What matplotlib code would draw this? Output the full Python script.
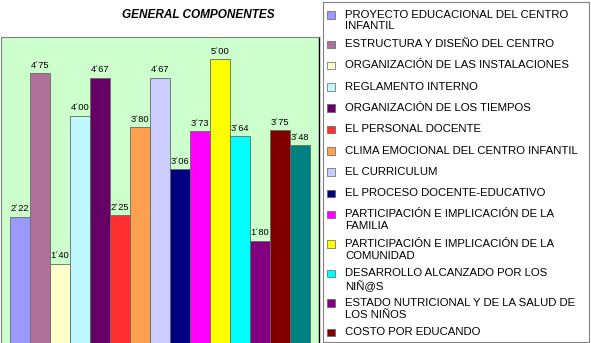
import matplotlib
matplotlib.use("Agg")
import matplotlib.pyplot as plt
from matplotlib.patches import Rectangle

plt.rcParams['font.family'] = ['Liberation Sans', 'DejaVu Sans']

# ------------------------------------------------------------------
# data
# ------------------------------------------------------------------
categories = [
    "PROYECTO EDUCACIONAL DEL CENTRO\nINFANTIL",
    "ESTRUCTURA Y DISEÑO DEL CENTRO",
    "ORGANIZACIÓN DE LAS INSTALACIONES",
    "REGLAMENTO INTERNO",
    "ORGANIZACIÓN DE LOS TIEMPOS",
    "EL PERSONAL DOCENTE",
    "CLIMA EMOCIONAL DEL CENTRO INFANTIL",
    "EL CURRICULUM",
    "EL PROCESO DOCENTE-EDUCATIVO",
    "PARTICIPACIÓN E IMPLICACIÓN DE LA\nFAMILIA",
    "PARTICIPACIÓN E IMPLICACIÓN DE LA\nCOMUNIDAD",
    "DESARROLLO ALCANZADO POR LOS\nNIÑ@S",
    "ESTADO NUTRICIONAL Y DE LA SALUD DE\nLOS NIÑOS",
    "COSTO POR EDUCANDO",
    "",  # 15th entry falls outside the visible legend
]
values = [2.22, 4.75, 1.40, 4.00, 4.67, 2.25, 3.80, 4.67, 3.06, 3.73, 5.00, 3.64, 1.80, 3.75, 3.48]
colors = ["#9999FF", "#AF7099", "#FFFFCC", "#C0F8FF", "#660066", "#FF3030", "#FFA050",
          "#CCCCFF", "#000080", "#FF00FF", "#FFFF00", "#00FFFF", "#800080", "#800000", "#008080"]
title = "GENERAL COMPONENTES"

# ------------------------------------------------------------------
# figure
# ------------------------------------------------------------------
W, H = 591, 343
fig = plt.figure(figsize=(W / 100, H / 100), dpi=100)
fig.patch.set_facecolor("white")

ax = fig.add_axes([1 / W, 0, 318 / W, (H - 37) / H])
ax.set_facecolor("#CCFFCC")

xs = list(range(len(values)))
bars = ax.bar(xs, values, width=1.0, color=colors, edgecolor="#5f6f5f", linewidth=0.6)

for x, v in zip(xs, values):
    label = f"{v:.2f}".replace(".", "´")
    ax.annotate(label, (x, v), xytext=(0, 2.5), textcoords="offset points",
                ha="center", va="bottom", fontsize=6.7)

ax.set_xlim(-0.95, len(values) - 0.05)
ax.set_ylim(0, 5.39)
ax.set_xticks([])
ax.set_yticks([])
for side in ("left", "top"):
    ax.spines[side].set_color("#808080")
    ax.spines[side].set_linewidth(0.8)
ax.spines["right"].set_color("black")
ax.spines["right"].set_linewidth(1.0)
ax.spines["bottom"].set_visible(False)

fig.text(198 / W, 1 - 15.5 / H, title, ha="center", va="center",
         fontsize=8.5, fontweight="bold", fontstyle="italic")

# ------------------------------------------------------------------
# legend (hand-built so multi-line entries sit like the original)
# ------------------------------------------------------------------
fig.patches.append(Rectangle((323 / W, 1 / H), 266 / W, 340 / H, transform=fig.transFigure,
                             facecolor="white", edgecolor="#808080", linewidth=0.8))

y = 15.0
for name, color in zip(categories, colors):
    if not name:
        continue
    fig.patches.append(Rectangle((327 / W, 1 - (y + 3.5) / H), 7.5 / W, 7.5 / H,
                                 transform=fig.transFigure, facecolor=color,
                                 edgecolor="#606060", linewidth=0.5))
    fig.text(345 / W, 1 - (y - 5.5) / H, name, ha="left", va="top",
             fontsize=8.2, linespacing=1.22)
    y += 29.5 if "\n" in name else 21.3

fig.savefig("out.png", dpi=100)
